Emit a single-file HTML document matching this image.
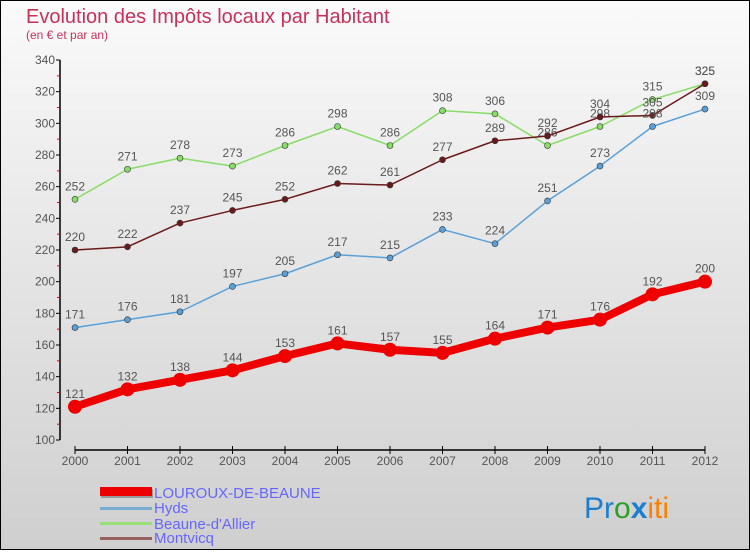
<!DOCTYPE html>
<html><head><meta charset="utf-8"><style>
html,body{margin:0;padding:0}
body{width:750px;height:550px;overflow:hidden;font-family:"Liberation Sans",sans-serif}
svg text{font-family:"Liberation Sans",sans-serif}
</style></head><body>
<svg id="chart" width="750" height="550" xmlns="http://www.w3.org/2000/svg">
<defs><linearGradient id="bg" x1="0" y1="0" x2="0" y2="1"><stop offset="0" stop-color="#fafafa"/><stop offset="1" stop-color="#cfcfcf"/></linearGradient></defs>
<rect x="0.5" y="0.5" width="749" height="549" fill="url(#bg)" stroke="#000"/>
<text x="26" y="23" font-size="20" fill="#c8305a">Evolution des Impôts locaux par Habitant</text>
<text x="26" y="39" font-size="12" fill="#c8305a">(en € et par an)</text>
<g id="axes"></g>
<g id="series"></g>
<g>
<rect x="101" y="489" width="52" height="9" fill="#999"/>
<rect x="100" y="487" width="52" height="9" fill="#ee0000"/>
<text x="154" y="498" font-size="15" fill="#6666ff">LOUROUX-DE-BEAUNE</text>
<rect x="100" y="507" width="52" height="3" fill="#7aaed0"/>
<text x="154" y="513" font-size="15" fill="#6666ff">Hyds</text>
<rect x="100" y="522" width="52" height="3" fill="#99dd77"/>
<text x="154" y="529" font-size="15" fill="#6666ff">Beaune-d'Allier</text>
<rect x="100" y="537" width="52" height="3" fill="#996060"/>
<text x="154" y="543" font-size="15" fill="#6666ff">Montvicq</text>
</g>
<g font-size="30">
<text x="584" y="518"><tspan fill="#1a7fd0">Pr</tspan><tspan fill="#2aa02a">o</tspan><tspan fill="#1a7fd0" font-weight="bold">x</tspan><tspan fill="#ff7f00">iti</tspan></text>
</g>
</svg>
<script>
const years=[2000,2001,2002,2003,2004,2005,2006,2007,2008,2009,2010,2011,2012];
const yTicks=[100,120,140,160,180,200,220,240,260,280,300,320,340];
const louroux=[121,132,138,144,153,161,157,155,164,171,176,192,200];
const hyds=[171,176,181,197,205,217,215,233,224,251,273,298,309];
const beaune=[252,271,278,273,286,298,286,308,306,286,298,315,325];
const montvicq=[220,222,237,245,252,262,261,277,289,292,304,305,325];
const NS="http://www.w3.org/2000/svg";
const x0=75,x1=705,yBot=440,yTop=60,vMin=100,vMax=340;
function xs(i){return x0+(x1-x0)*i/(years.length-1);}
function ys(v){return yBot-(v-vMin)*(yBot-yTop)/(vMax-vMin);}
function mk(tag,attrs,parent){const e=document.createElementNS(NS,tag);for(const k in attrs)e.setAttribute(k,attrs[k]);parent.appendChild(e);return e;}
const ax=document.getElementById('axes');
let l=mk('line',{x1:60,y1:yTop,x2:60,y2:yBot,stroke:'#000','stroke-width':1.5},ax);


yTicks.forEach((v,i)=>{
  let t=mk('line',{x1:56,y1:ys(v),x2:60,y2:ys(v),stroke:'#000'},ax);
  
  
  if(i<yTicks.length-1){let m=mk('line',{x1:57,y1:ys(v+10),x2:60,y2:ys(v+10),stroke:'#e00'},ax);
    
    }
  let tx=mk('text',{x:55,y:ys(v)+4,'font-size':12,fill:'#555','text-anchor':'end'},ax);
  tx.textContent=v;
  
  
});
l=mk('line',{x1:x0,y1:450,x2:x1,y2:450,stroke:'#000','stroke-width':1.5},ax);


years.forEach((yr,i)=>{
  let t=mk('line',{x1:xs(i),y1:446,x2:xs(i),y2:454,stroke:'#000'},ax);
  
  
  let tx=mk('text',{x:xs(i),y:465,'font-size':12,fill:'#555','text-anchor':'middle'},ax);
  tx.textContent=yr;
  
  
});
const sg=document.getElementById('series');
function series(vals,color,w,r,name){
  const g=mk('g',{},sg);
  
  
  const p=mk('polyline',{points:vals.map((v,i)=>xs(i)+','+ys(v)).join(' '),fill:'none',stroke:color,'stroke-width':w,'stroke-linejoin':'round'},g);
  
  
  vals.forEach((v,i)=>{
    const c=mk('circle',{cx:xs(i),cy:ys(v),r:r,fill:color,stroke:'#333','stroke-width':r>4?0:0.6},g);
    
    
    const t=mk('text',{x:xs(i),y:ys(v)-9,'font-size':12,fill:'#555','text-anchor':'middle'},g);
    t.textContent=v;
    
    
  });
}
series(beaune,'#88dd66',1.5,3,'beaune');
series(montvicq,'#6b1a1a',1.5,3,'montvicq');
series(hyds,'#5aa0d8',1.5,3,'hyds');
series(louroux,'#ee0000',8,7,'louroux');
</script>
</body></html>
